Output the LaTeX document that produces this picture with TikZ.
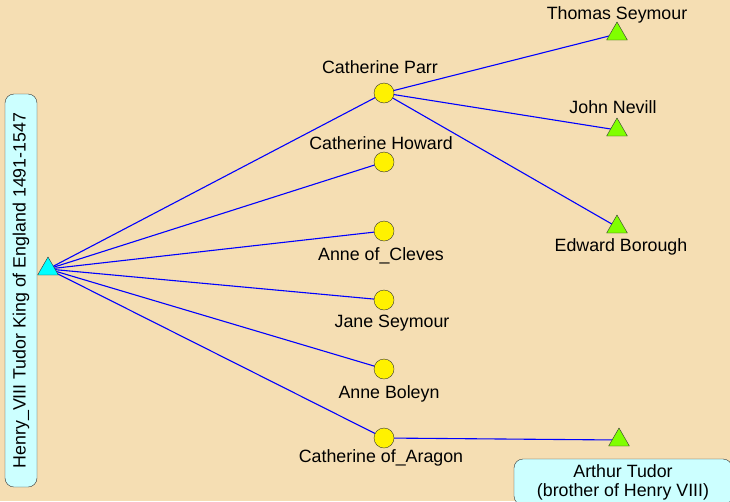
\documentclass[tikz,border=0pt]{standalone}
\usepackage{fontspec}
\setmainfont{Liberation Sans}
\usepackage{tikz}
\usetikzlibrary{shapes.geometric}
\definecolor{paper}{RGB}{245,222,179}
\definecolor{boxcyan}{RGB}{204,255,255}
\definecolor{leafgreen}{RGB}{128,255,0}
\definecolor{kingcyan}{RGB}{0,255,255}
\tikzset{every node/.append style={font=\fontsize{17.8}{19}\selectfont}}
\tikzset{
  wife/.style={circle, draw=black!80, fill=yellow, minimum size=20pt, inner sep=0pt},
  male/.style={regular polygon, regular polygon sides=3, draw=black!80, minimum size=24pt, inner sep=0pt},
  namebox/.style={draw=black!80, fill=boxcyan, rounded corners=9pt, inner sep=1pt},
  link/.style={blue, line width=1.1pt}
}
\pgfdeclarelayer{bg}
\pgfdeclarelayer{links}
\pgfsetlayers{bg,links,main}

\begin{document}
\begin{tikzpicture}[x=1pt, y=-1pt]
    \begin{pgfonlayer}{bg}
        \fill[paper] (0,0) rectangle (730,501);
    \end{pgfonlayer}
    \useasboundingbox (0,0) rectangle (730,501);
    \clip (0,0) rectangle (730,501);
    \node[namebox, rotate=90, minimum width=393pt, minimum height=32pt] (henrybox) at (21,290.5) {Henry\_VIII Tudor King of England 1491-1547};
    \node[male, fill=kingcyan] (henry) at (48,269) {};
    \node[wife] (parr) at (384,93) {};
    \node[wife] (howard) at (384,162) {};
    \node[wife] (cleves) at (384,231) {};
    \node[wife] (jane) at (384,300) {};
    \node[wife] (boleyn) at (384,369) {};
    \node[wife] (aragon) at (384,438) {};
    \node[male, fill=leafgreen] (thomas) at (617,34) {};
    \node[male, fill=leafgreen] (nevill) at (617,130) {};
    \node[male, fill=leafgreen] (borough) at (617,227) {};
    \node[male, fill=leafgreen] (arthur) at (619,440) {};
    \node (lblparr) at (380,67) {Catherine Parr};
    \node (lblhoward) at (381,143) {Catherine Howard};
    \node (lblcleves) at (381,256) {Anne of\_Cleves};
    \node (lbljane) at (392,323) {Jane Seymour};
    \node (lblboleyn) at (389,394) {Anne Boleyn};
    \node (lblaragon) at (381,458) {Catherine of\_Aragon};
    \node (lblthomas) at (617,15) {Thomas Seymour};
    \node (lblnevill) at (613,107) {John Nevill};
    \node (lblborough) at (621,247) {Edward Borough};
    \node[namebox, align=center, minimum width=218pt, minimum height=46pt] (arthurbox) at (623,482) {Arthur Tudor\\(brother of Henry VIII)};
    \begin{pgfonlayer}{links}
        \foreach \w in {parr,howard,cleves,jane,boleyn,aragon}
            \draw[link] (henry.center) -- (\w.center);
        \foreach \m in {thomas,nevill,borough}
            \draw[link] (parr.center) -- (\m.center);
        \draw[link] (aragon.center) -- (arthur.center);
    \end{pgfonlayer}
\end{tikzpicture}
\end{document}
